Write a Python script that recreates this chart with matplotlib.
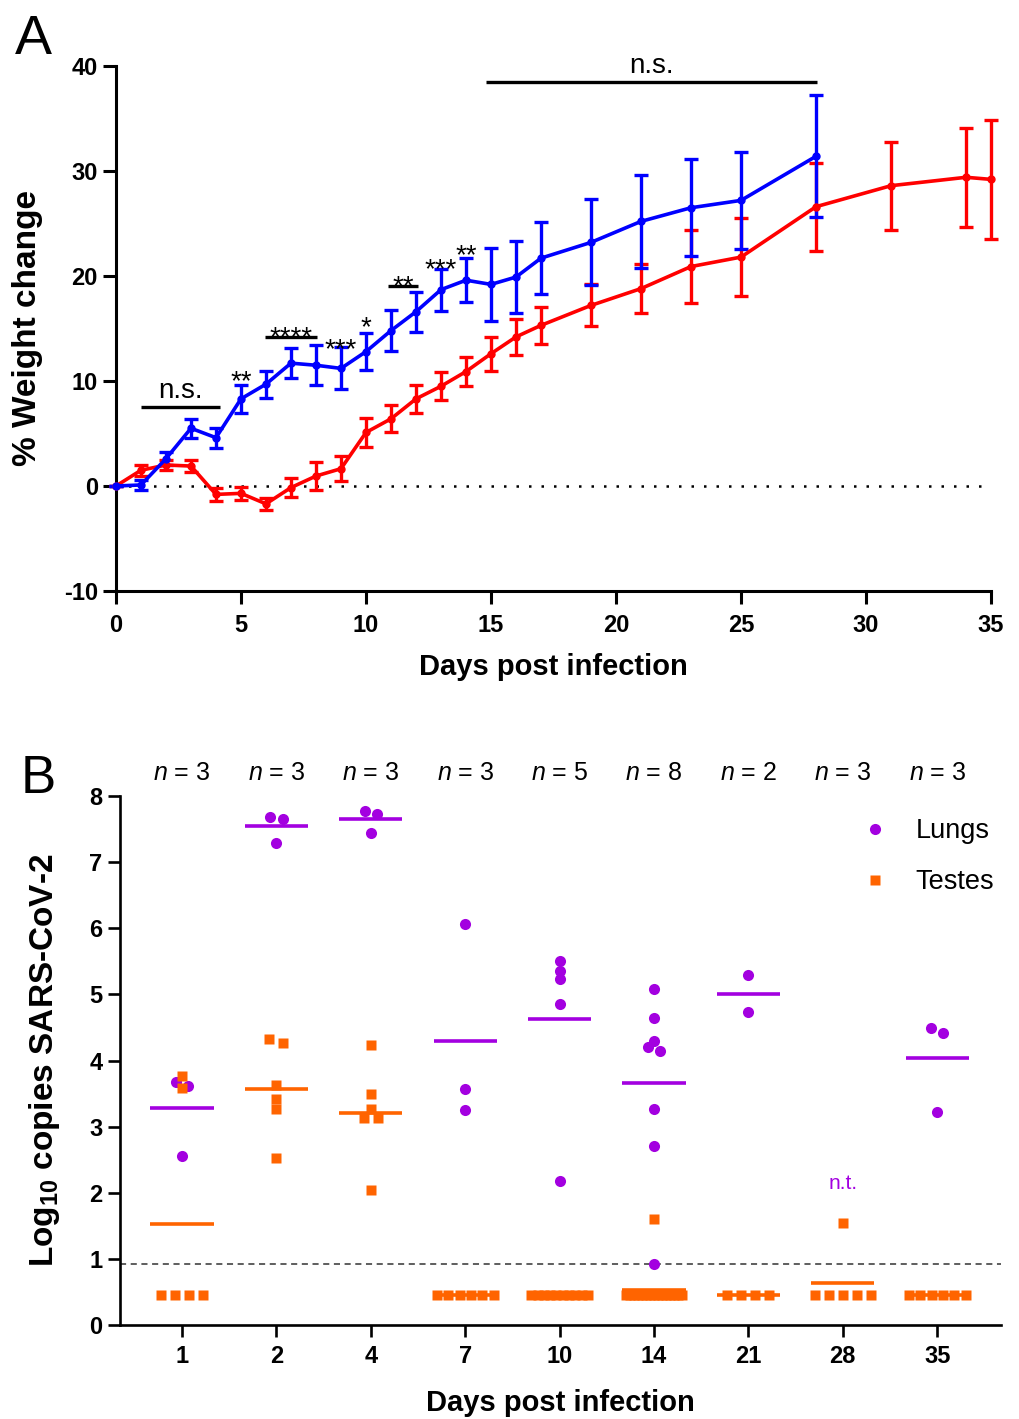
import numpy as np
import matplotlib
matplotlib.use('Agg')
import matplotlib.pyplot as plt
from matplotlib.lines import Line2D

plt.rcParams['font.family'] = ['Liberation Sans', 'DejaVu Sans']
plt.rcParams['mathtext.fontset'] = 'custom'
plt.rcParams['mathtext.rm'] = 'Liberation Sans'
plt.rcParams['mathtext.it'] = 'Liberation Sans:italic'
plt.rcParams['mathtext.bf'] = 'Liberation Sans:bold'
plt.rcParams['axes.unicode_minus'] = False

# ---- panel A: weight change ----
blue_days = [0, 1, 2, 3, 4, 5, 6, 7, 8, 9, 10, 11, 12, 13, 14, 15, 16, 17, 19, 21, 23, 25, 28]
blue_mean = [0, 0.1, 2.6, 5.5, 4.6, 8.3, 9.7, 11.7, 11.5, 11.2, 12.8, 14.8, 16.6, 18.7, 19.6,
             19.2, 19.9, 21.7, 23.2, 25.2, 26.5, 27.2, 31.4]
blue_sem = [0, 0.5, 0.6, 0.9, 0.95, 1.3, 1.3, 1.4, 1.9, 2.0, 1.75, 1.95, 1.9, 2.0, 2.1,
            3.5, 3.4, 3.4, 4.1, 4.4, 4.6, 4.6, 5.8]

red_days = [0, 1, 2, 3, 4, 5, 6, 7, 8, 9, 10, 11, 12, 13, 14, 15, 16, 17, 19, 21, 23, 25, 28, 31, 34, 35]
red_mean = [0, 1.5, 2.0, 1.9, -0.8, -0.7, -1.7, -0.15, 0.95, 1.65, 5.1, 6.4, 8.3, 9.5, 10.9,
            12.6, 14.2, 15.3, 17.2, 18.8, 20.9, 21.8, 26.6, 28.6, 29.4, 29.2]
red_sem = [0, 0.5, 0.5, 0.6, 0.6, 0.6, 0.6, 0.9, 1.3, 1.2, 1.35, 1.3, 1.35, 1.35, 1.4,
           1.6, 1.75, 1.75, 2.0, 2.3, 3.5, 3.7, 4.2, 4.2, 4.7, 5.7]

# significance: bars (start, end, height, label) and lone stars (day, star centre, label)
sig_bars = [(1.0, 4.15, 7.55, 'n.s.'), (5.95, 8.05, 14.2, '****'),
            (10.9, 12.1, 19.0, '**'), (14.8, 28.05, 38.5, 'n.s.')]
sig_stars = [(5, 10.7, '**'), (9, 13.8, '***'), (10, 15.9, '*'), (13, 21.4, '***'), (14, 22.7, '**')]

# ---- panel B: viral copies ----
b_days = ['1', '2', '4', '7', '10', '14', '21', '28', '35']
n_mice = [3, 3, 3, 3, 5, 8, 2, 3, 3]
LOD = 0.92
BLQ = 0.46
lungs = [
    [3.61, 3.68, 2.55],
    [7.65, 7.69, 7.29],
    [7.77, 7.73, 7.44],
    [6.07, 3.57, 3.25],
    [5.50, 5.36, 5.24, 4.86, 2.18],
    [5.08, 4.65, 4.29, 4.20, 4.15, 3.26, 2.71, 0.92],
    [5.29, 4.73],
    [],  # n.t.
    [4.49, 4.42, 3.22],
]
testes = [
    [3.76, 3.59] + [BLQ] * 4,
    [4.26, 4.32, 3.63, 3.42, 3.27, 2.52],
    [4.23, 3.49, 3.26, 3.13, 3.13, 2.04],
    [BLQ] * 6,
    [BLQ] * 10,
    [1.61] + [BLQ] * 15,
    [BLQ] * 4,
    [1.54] + [BLQ] * 5,
    [BLQ] * 6,
]

blue = '#0000ff'
red = '#ff0000'
purple = '#a300e0'
orange = '#ff6400'


def spread(vals, step, width=0.6, tol=0.08):
    # spread near-equal values sideways like a scatter dot plot
    vals = np.asarray(vals, float)
    xs = np.zeros(len(vals))
    order = np.argsort(-vals, kind='stable')
    groups = []
    for i in order:
        if groups and abs(vals[groups[-1][-1]] - vals[i]) < tol:
            groups[-1].append(i)
        else:
            groups.append([i])
    for g in groups:
        k = len(g)
        if k > 1:
            s = min(step, width / (k - 1))
            xs[g] = (np.arange(k) - (k - 1) / 2) * s
    return xs


fig = plt.figure(figsize=(10.2, 14.19), dpi=100)

# ================= A =================
ax = fig.add_axes([0.1137, 0.5835, 0.8579, 0.37])
ax.axhline(0, color='black', lw=1.8, ls=(0, (1, 4)), zorder=1)
for d, m, s, c in [(red_days, red_mean, red_sem, red), (blue_days, blue_mean, blue_sem, blue)]:
    eb = ax.errorbar(d, m, yerr=s, color=c, lw=2.6, marker='o', ms=5,
                     elinewidth=2.4, capsize=5, capthick=2.4, zorder=3)
    line, caps, bars = eb.lines
    for art in [line] + list(caps) + list(bars):
        art.set_clip_on(False)

star_fs = 20
star_off = 1.5   # star glyph centre sits this far above the baseline (data units)
for x0, x1, y, lab in sig_bars:
    ax.plot([x0, x1], [y, y], color='black', lw=2.4, solid_capstyle='butt', clip_on=False)
    if lab == 'n.s.':
        ax.text((x0 + x1) / 2, y + 0.8, lab, ha='center', va='baseline', fontsize=20)
    else:
        ax.text((x0 + x1) / 2, y + 0.75 - star_off, lab, ha='center', va='baseline', fontsize=star_fs)
for x, y, lab in sig_stars:
    ax.text(x, y - star_off, lab, ha='center', va='baseline', fontsize=star_fs)

ax.set_xlim(0, 35)
ax.set_ylim(-10, 40)
ax.set_xticks(range(0, 36, 5))
ax.set_yticks(range(-10, 41, 10))
for sp in ['top', 'right']:
    ax.spines[sp].set_visible(False)
for sp in ['left', 'bottom']:
    ax.spines[sp].set_linewidth(2.2)
ax.tick_params(direction='out', length=9.5, width=2.2, labelsize=17, pad=3.5)
ax.tick_params(axis='x', pad=7)
for lab in ax.get_xticklabels() + ax.get_yticklabels():
    lab.set_fontweight('bold')
ax.set_ylabel('% Weight change', fontsize=24, fontweight='bold')
ax.set_xlabel('Days post infection', fontsize=21, fontweight='bold')
ax.yaxis.set_label_coords(-0.083, 0.5)
ax.xaxis.set_label_coords(0.5, -0.118)

fig.text(0.015, 0.962, 'A', fontsize=40, ha='left', va='baseline')

# ================= B =================
bx = fig.add_axes([0.1176, 0.0662, 0.8638, 0.3728])
bx.axhline(LOD, color='#333333', lw=1.1, ls=(0, (4, 3)), zorder=1)
pos = np.arange(len(b_days))
for i in pos:
    if lungs[i]:
        xl = spread(lungs[i], 0.13)
        bx.plot(i + xl, lungs[i], 'o', color=purple, ms=8, mec='none', zorder=4)
        bx.plot([i - 0.335, i + 0.335], [np.mean(lungs[i])] * 2, color=purple, lw=2.6,
                solid_capstyle='butt', zorder=3)
    xt = spread(testes[i], 0.148)
    bx.plot(i + xt, testes[i], 's', color=orange, ms=7.5, mec='none', zorder=4)
    bx.plot([i - 0.335, i + 0.335], [np.mean(testes[i])] * 2, color=orange, lw=2.6,
            solid_capstyle='butt', zorder=3)
    bx.text(i, 8.35, '$n$ = %d' % n_mice[i], ha='center', va='center', fontsize=18)
    if not lungs[i]:
        bx.text(i, 2.14, 'n.t.', color=purple, ha='center', va='center', fontsize=15)

bx.set_xlim(-0.657, 8.676)
bx.set_ylim(0, 8)
bx.set_xticks(pos)
bx.set_xticklabels(b_days)
bx.set_yticks(range(0, 9))
for sp in ['top', 'right']:
    bx.spines[sp].set_visible(False)
for sp in ['left', 'bottom']:
    bx.spines[sp].set_linewidth(1.9)
bx.tick_params(direction='out', length=8.6, width=1.9, labelsize=17, pad=4)
bx.tick_params(axis='x', pad=6)
for lab in bx.get_xticklabels() + bx.get_yticklabels():
    lab.set_fontweight('bold')
bx.set_ylabel(r'Log$_{\mathbf{10}}$ copies SARS-CoV-2', fontsize=24, fontweight='bold')
bx.set_xlabel('Days post infection', fontsize=21, fontweight='bold')
bx.yaxis.set_label_coords(-0.066, 0.5)
bx.xaxis.set_label_coords(0.5, -0.12)

handles = [Line2D([], [], ls='none', marker='o', color=purple, ms=8, mec='none'),
           Line2D([], [], ls='none', marker='s', color=orange, ms=7.5, mec='none')]
bx.legend(handles, ['Lungs', 'Testes'], loc='upper left', bbox_to_anchor=(0.8417, 0.958),
          frameon=False, fontsize=19.5, handlelength=1.0, handletextpad=1.0,
          labelspacing=0.93, borderaxespad=0, borderpad=0)

fig.text(0.02, 0.441, 'B', fontsize=38, ha='left', va='baseline')

fig.savefig('out.png', dpi=100)
